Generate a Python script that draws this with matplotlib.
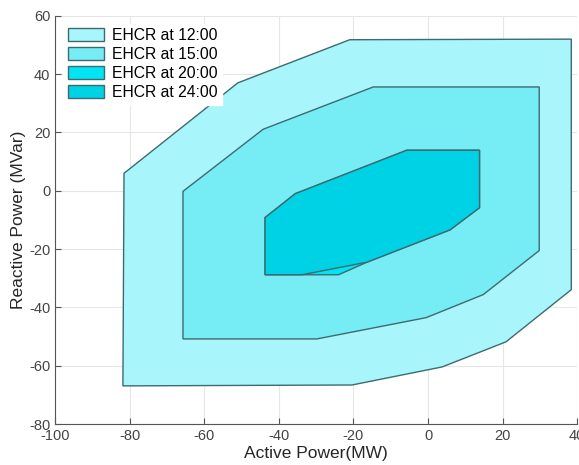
import numpy as np
import matplotlib.pyplot as plt
from matplotlib.patches import Polygon

plt.rcParams['font.family'] = ['Liberation Sans', 'DejaVu Sans']
plt.rcParams['axes.unicode_minus'] = False

# EHCR vertices (active power MW, reactive power MVar)
p_12 = [-21, 38.4, 38.4, 20.9, 3.8, -20.4, -81.8, -81.5, -51]
q_12 = [51.8, 52, -33.9, -51.8, -60.4, -66.6, -66.9, 6, 37]

p_15 = [-14.7, 29.8, 29.8, 14.8, -0.5, -29.8, -65.7, -65.7, -44.2]
q_15 = [35.6, 35.6, -20.5, -35.6, -43.5, -50.8, -50.8, -0.2, 21.1]

p_20 = [-43.7, -35.6, -5.7, 13.8, 13.8, 5.9, -16.4, -24, -43.7]
q_20 = [-9.2, -1, 13.9, 13.9, -5.8, -13.4, -24.5, -28.8, -28.8]

p_24 = [-43.7, -35.6, -5.7, 13.8, 13.8, 5.9, -16.4, -33.8, -43.7]
q_24 = [-9.2, -1, 13.9, 13.9, -5.8, -13.4, -24.5, -28.8, -28.8]

labels = ['EHCR at 12:00', 'EHCR at 15:00', 'EHCR at 20:00', 'EHCR at 24:00']
fills = ['#a8f5fb', '#76ecf5', '#00e4f3', '#00d2e6']

fig = plt.figure(figsize=(5.79, 4.65), dpi=100)
ax = fig.add_axes([0.095, 0.088, 0.902, 0.878])

regions = [(p_12, q_12), (p_15, q_15), (p_20, q_20), (p_24, q_24)]
for (p, q), c, lab in zip(regions, fills, labels):
    poly = Polygon(np.column_stack([p, q]), closed=True, facecolor=c,
                   edgecolor='#3d6b6f', linewidth=1.0, label=lab, zorder=2)
    ax.add_patch(poly)

ax.set_xlim(-100, 40)
ax.set_ylim(-80, 60)
ax.set_xticks(np.arange(-100, 41, 20))
ax.set_yticks(np.arange(-80, 61, 20))
ax.grid(True, color='#e6e6e6', linewidth=0.8, zorder=0)
ax.set_axisbelow(True)
ax.spines['top'].set_visible(False)
ax.spines['right'].set_visible(False)
ax.spines['left'].set_color('#555555')
ax.spines['bottom'].set_color('#555555')
ax.tick_params(direction='in', length=4, colors='#555555', labelsize=10.5,
               labelcolor='#444444')

ax.set_xlabel('Active Power(MW)', fontsize=12.5, color='#262626', labelpad=2)
ax.set_ylabel('Reactive Power (MVar)', fontsize=12.5, color='#262626', labelpad=2)

leg = ax.legend(loc='upper left', bbox_to_anchor=(0.0, 1.0), fontsize=11.3,
                frameon=True, fancybox=False, handlelength=2.3, handleheight=0.9,
                labelspacing=0.25, borderpad=0.3, handletextpad=0.5,
                borderaxespad=0.5)
leg.get_frame().set_facecolor('white')
leg.get_frame().set_edgecolor('white')
leg.get_frame().set_alpha(1)

fig.savefig('out.png', dpi=100)
